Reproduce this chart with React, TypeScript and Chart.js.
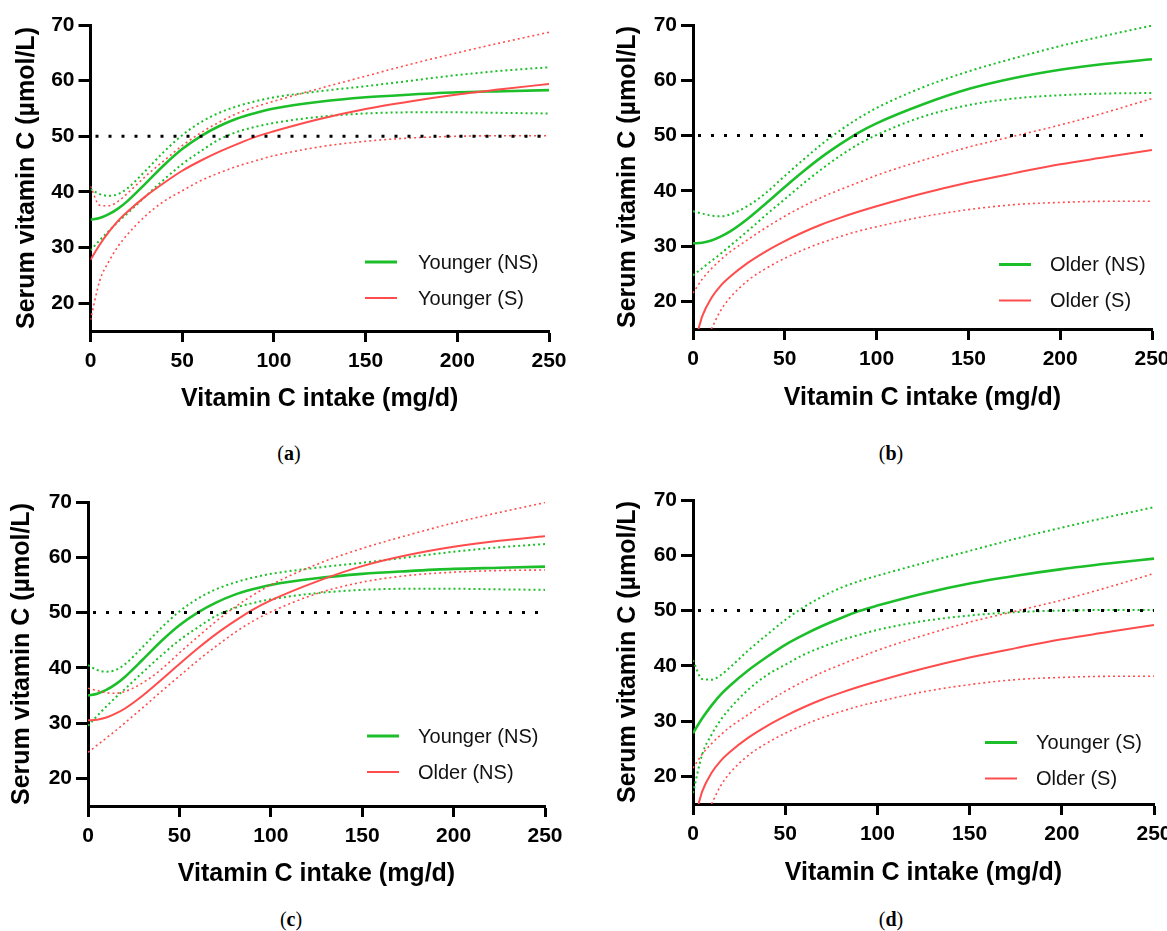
import React, { useEffect, useRef } from 'react';
import { Chart, registerables } from 'chart.js';

Chart.register(...registerables);

// ---------- data ----------
const X_TICKS = [0, 50, 100, 150, 200, 250];
const Y_TICKS = [20, 30, 40, 50, 60, 70];
const REF_X = [0, 250];
const REF_Y = [50, 50];

const INTAKE = [0, 5, 10, 15, 20, 30, 40, 50, 60, 70, 80, 90, 100, 125, 150, 175, 200, 225, 250];

// Younger, non-smokers
const YOUNGER_NS_FIT = [35, 35.3, 36, 37, 38.3, 41.5, 44.8, 47.7, 50, 51.8, 53.2, 54.2, 55, 56.2, 57, 57.5, 57.9, 58.1, 58.3];
const YOUNGER_NS_UPPER = [40.5, 39.6, 39.3, 39.6, 40.6, 43.8, 47.2, 50.2, 52.5, 54.2, 55.4, 56.3, 57, 58.1, 59, 60, 61, 61.8, 62.4];
const YOUNGER_NS_LOWER = [29.5, 31.3, 33, 34.6, 36.1, 39.2, 42.2, 45, 47.3, 49.4, 50.8, 51.7, 52.4, 53.5, 54.1, 54.3, 54.3, 54.2, 54.1];

// Younger, smokers
const YOUNGER_S_FIT = [27.8, 30.5, 32.8, 34.8, 36.4, 39.2, 41.6, 43.8, 45.6, 47.2, 48.6, 49.9, 50.9, 53.1, 54.9, 56.3, 57.5, 58.5, 59.4];
const YOUNGER_S_UPPER = [41, 37.6, 37.5, 38.3, 39.7, 42.8, 45.6, 48.3, 50.6, 52.5, 54.1, 55.3, 56.3, 58.6, 60.8, 63, 65, 66.9, 68.7];
const YOUNGER_S_LOWER = [17, 24, 27.5, 30.2, 32.3, 35.7, 38.3, 40.2, 42, 43.4, 44.6, 45.6, 46.5, 48.1, 49.1, 49.7, 50, 50.1, 50.1];

// Older, non-smokers
const OLDER_NS_FIT = [30.5, 30.6, 31, 31.7, 32.6, 35, 37.8, 40.7, 43.5, 46.1, 48.4, 50.5, 52.2, 55.6, 58.4, 60.4, 61.9, 63, 63.8];
const OLDER_NS_UPPER = [36.3, 35.9, 35.5, 35.4, 35.7, 37.3, 39.7, 42.7, 45.6, 48.4, 50.9, 53.1, 55, 58.7, 61.6, 64, 66.2, 68.1, 69.9];
const OLDER_NS_LOWER = [24.7, 26, 27.3, 28.6, 30, 32.8, 35.7, 38.5, 41.3, 43.9, 46.3, 48.4, 50.1, 53.4, 55.5, 56.7, 57.3, 57.6, 57.7];

// Older, smokers (curves enter the plot above the axis minimum)
const OLDER_S_FIT_X = [3, 5, 10, 15, 20, 30, 40, 50, 60, 70, 80, 90, 100, 125, 150, 175, 200, 225, 250];
const OLDER_S_FIT = [15, 17.3, 20.6, 22.8, 24.4, 27, 29.1, 30.9, 32.5, 33.9, 35.1, 36.2, 37.2, 39.5, 41.5, 43.2, 44.8, 46.1, 47.4];
const OLDER_S_UPPER = [21.5, 24, 25.9, 27.5, 28.9, 31.2, 33.4, 35.4, 37.2, 38.8, 40.2, 41.5, 42.8, 45.5, 47.9, 49.9, 51.9, 54.2, 56.7];
const OLDER_S_LOWER_X = [10, 15, 20, 30, 40, 50, 60, 70, 80, 90, 100, 125, 150, 175, 200, 225, 250];
const OLDER_S_LOWER = [15, 18.3, 20.6, 23.8, 26, 27.8, 29.3, 30.6, 31.7, 32.7, 33.5, 35.3, 36.6, 37.5, 37.9, 38.1, 38.1];

const GROUPS: Record<string, any> = {
  youngerNS: { fitX: INTAKE, fit: YOUNGER_NS_FIT, upX: INTAKE, up: YOUNGER_NS_UPPER, loX: INTAKE, lo: YOUNGER_NS_LOWER },
  youngerS: { fitX: INTAKE, fit: YOUNGER_S_FIT, upX: INTAKE, up: YOUNGER_S_UPPER, loX: INTAKE, lo: YOUNGER_S_LOWER },
  olderNS: { fitX: INTAKE, fit: OLDER_NS_FIT, upX: INTAKE, up: OLDER_NS_UPPER, loX: INTAKE, lo: OLDER_NS_LOWER },
  olderS: { fitX: OLDER_S_FIT_X, fit: OLDER_S_FIT, upX: INTAKE, up: OLDER_S_UPPER, loX: OLDER_S_LOWER_X, lo: OLDER_S_LOWER },
};

// ---------- styles / layout ----------
const GREEN = '#1cbf2a';
const RED = '#ff4c4c';
const SANS = '"Liberation Sans", Arial, Helvetica, sans-serif';
const SERIF = '"Liberation Serif", "Times New Roman", serif';

type Panel = {
  key: string;
  canvasLeft: number;
  area: [number, number, number, number];
  yTitleX: number;
  xTitleY: number;
  caption: [number, number];
  green: { group: string; label: string };
  red: { group: string; label: string };
  legend: { x: number; y: number; text: number };
};

const PANELS: Panel[] = [
  { key: 'a', canvasLeft: 0, area: [90.5, 25, 548.5, 331], yTitleX: 27.5, xTitleY: 399, caption: [289, 453],
    green: { group: 'youngerNS', label: 'Younger (NS)' }, red: { group: 'youngerS', label: 'Younger (S)' },
    legend: { x: 274.5, y: 237, text: 53 } },
  { key: 'b', canvasLeft: 590, area: [693, 24.5, 1152, 328.5], yTitleX: 628, xTitleY: 397.5, caption: [891, 453],
    green: { group: 'olderNS', label: 'Older (NS)' }, red: { group: 'olderS', label: 'Older (S)' },
    legend: { x: 306, y: 239.5, text: 51 } },
  { key: 'c', canvasLeft: 0, area: [88, 502, 545, 806], yTitleX: 22, xTitleY: 874, caption: [291, 919],
    green: { group: 'youngerNS', label: 'Younger (NS)' }, red: { group: 'olderNS', label: 'Older (NS)' },
    legend: { x: 279, y: 234, text: 51 } },
  { key: 'd', canvasLeft: 590, area: [693, 499.5, 1154, 803.5], yTitleX: 628, xTitleY: 872.5, caption: [891, 919],
    green: { group: 'youngerS', label: 'Younger (S)' }, red: { group: 'olderS', label: 'Older (S)' },
    legend: { x: 292, y: 242.5, text: 51 } },
];

const pts = (xs: number[], ys: number[]) => xs.map((x, i) => ({ x, y: ys[i] }));

const lineDs = (data: any[], color: string, width: number, dash: number[] = []) => ({
  data,
  borderColor: color,
  backgroundColor: color,
  borderWidth: width,
  borderDash: dash,
  pointRadius: 0,
  fill: false,
  cubicInterpolationMode: 'monotone' as const,
});

const insideLegend = {
  id: 'insideLegend',
  afterDraw(chart: any, _args: any, opts: any) {
    if (!opts || !opts.items) return;
    const { ctx, chartArea } = chart;
    ctx.save();
    opts.items.forEach((it: any, i: number) => {
      const y = chartArea.top + opts.y + i * 36;
      const x = chartArea.left + opts.x;
      ctx.beginPath();
      ctx.setLineDash([]);
      ctx.strokeStyle = it.color;
      ctx.lineWidth = it.width;
      ctx.moveTo(x, y);
      ctx.lineTo(x + 32, y);
      ctx.stroke();
      ctx.fillStyle = '#111';
      ctx.font = `20px ${SANS}`;
      ctx.textBaseline = 'middle';
      ctx.textAlign = 'left';
      ctx.fillText(it.label, x + opts.text, y + 1);
    });
    ctx.restore();
  },
};

function PanelChart({ p }: { p: Panel }) {
  const ref = useRef<HTMLCanvasElement | null>(null);
  const [L, T, R, B] = p.area;
  const padTop = 20;
  const padRight = 32;
  const canvasTop = T - padTop;
  const canvasWidth = Math.round(R + padRight - p.canvasLeft);
  const titleLine = 30; // 25px * 1.2
  const canvasBottom = p.xTitleY + titleLine / 2;
  const canvasHeight = Math.round(canvasBottom - canvasTop);
  const yAxisW = L - p.canvasLeft;
  const xAxisH = canvasTop + canvasHeight - B;

  useEffect(() => {
    if (!ref.current) return;
    const g = GROUPS[p.green.group];
    const r = GROUPS[p.red.group];
    const dot = [2, 3];
    const chart = new Chart(ref.current, {
      type: 'line',
      data: {
        datasets: [
          { ...lineDs(pts(REF_X, REF_Y), '#000', 3, [3, 10]), borderDashOffset: 8, cubicInterpolationMode: 'default' as const, tension: 0 },
          lineDs(pts(r.upX, r.up), RED, 1.6, dot),
          lineDs(pts(r.loX, r.lo), RED, 1.6, dot),
          lineDs(pts(r.fitX, r.fit), RED, 2),
          lineDs(pts(g.upX, g.up), GREEN, 2, dot),
          lineDs(pts(g.loX, g.lo), GREEN, 2, dot),
          lineDs(pts(g.fitX, g.fit), GREEN, 2.6),
        ] as any,
      },
      options: {
        animation: false,
        responsive: false,
        maintainAspectRatio: false,
        devicePixelRatio: 1,
        layout: { autoPadding: false, padding: { left: 0, top: padTop, right: padRight, bottom: 0 } } as any,
        plugins: {
          legend: { display: false },
          tooltip: { enabled: false },
          insideLegend: {
            x: p.legend.x,
            y: p.legend.y,
            text: p.legend.text,
            items: [
              { label: p.green.label, color: GREEN, width: 3 },
              { label: p.red.label, color: RED, width: 2 },
            ],
          },
        } as any,
        scales: {
          x: {
            type: 'linear',
            min: 0,
            max: 250,
            afterBuildTicks: (s: any) => { s.ticks = X_TICKS.map((v) => ({ value: v })); },
            afterFit: (s: any) => { s.height = xAxisH; },
            grid: { display: true, drawOnChartArea: false, drawTicks: true, tickLength: 11, tickWidth: 3, tickColor: '#000', color: '#000' },
            border: { display: true, width: 3, color: '#000' },
            ticks: { color: '#000', font: { family: SANS, size: 21, weight: 'bold' }, padding: 7, maxRotation: 0, autoSkip: false },
            title: { display: true, text: 'Vitamin C intake (mg/d)', color: '#000', font: { family: SANS, size: 25, weight: 'bold' }, padding: { top: 0, bottom: 0 } },
          },
          y: {
            type: 'linear',
            min: 15,
            max: 70,
            afterBuildTicks: (s: any) => { s.ticks = Y_TICKS.map((v) => ({ value: v })); },
            afterFit: (s: any) => { s.width = yAxisW; },
            grid: { display: true, drawOnChartArea: false, drawTicks: true, tickLength: 12, tickWidth: 3, tickColor: '#000', color: '#000' },
            border: { display: true, width: 3, color: '#000' },
            ticks: { color: '#000', font: { family: SANS, size: 21, weight: 'bold' }, padding: 4, autoSkip: false },
            title: {
              display: true,
              text: 'Serum vitamin C (µmol/L)',
              color: '#000',
              font: { family: SANS, size: 25, weight: 'bold' },
              padding: { top: Math.max(0, p.yTitleX - p.canvasLeft - titleLine / 2), bottom: 0 },
            },
          },
        } as any,
      },
      plugins: [insideLegend],
    });
    return () => chart.destroy();
  }, []);

  return (
    <canvas
      ref={ref}
      width={canvasWidth}
      height={canvasHeight}
      style={{ position: 'absolute', left: p.canvasLeft, top: canvasTop, width: canvasWidth, height: canvasHeight }}
    />
  );
}

export default function App() {
  return (
    <div style={{ position: 'absolute', left: 0, top: 0, width: 1167, height: 931, background: '#fff', overflow: 'hidden' }}>
      {PANELS.map((p) => (
        <PanelChart key={p.key} p={p} />
      ))}
      {PANELS.map((p) => (
        <div
          key={'cap' + p.key}
          style={{
            position: 'absolute',
            left: p.caption[0],
            top: p.caption[1],
            transform: 'translate(-50%, -50%)',
            fontFamily: SERIF,
            fontSize: 20,
            color: '#000',
            whiteSpace: 'nowrap',
          }}
        >
          (<b>{p.key}</b>)
        </div>
      ))}
    </div>
  );
}
